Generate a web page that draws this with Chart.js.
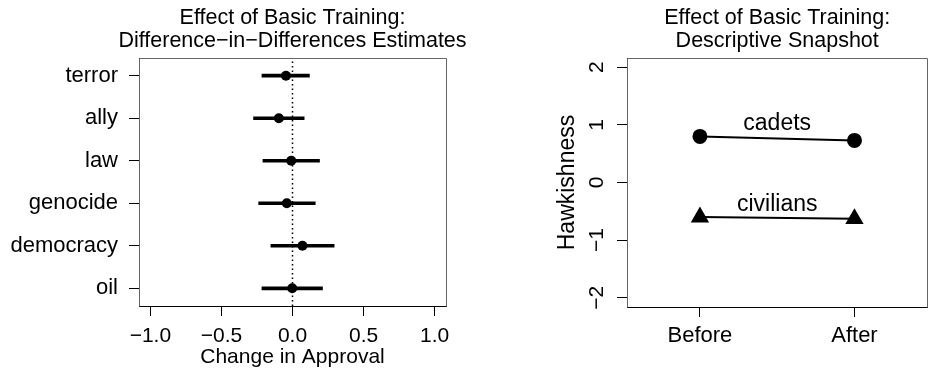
<!DOCTYPE html>
<html>
<head>
<meta charset="utf-8">
<script src="https://cdn.jsdelivr.net/npm/chart.js@4.4.1/dist/chart.umd.min.js"></script>
<style>
  body { margin: 0; background: #fff; width: 938px; height: 373px; overflow: hidden; position: relative; }
  #left { position: absolute; left: 0; top: 0; }
  #right { position: absolute; left: 470px; top: 0; }
</style>
</head>
<body>
<canvas id="left" width="470" height="373"></canvas>
<canvas id="right" width="468" height="373"></canvas>
<script>
// left panel: diff-in-diff estimates, listed bottom to top
const issues = ["oil", "democracy", "genocide", "law", "ally", "terror"];
const estimates = [-0.002, 0.07, -0.04, -0.009, -0.096, -0.046];
const ciLow = [-0.215, -0.152, -0.238, -0.208, -0.274, -0.215];
const ciHigh = [0.211, 0.293, 0.16, 0.19, 0.082, 0.119];
const approvalTicks = [-1, -0.5, 0, 0.5, 1];

// right panel: descriptive snapshot
const periods = ["Before", "After"];
const cadets = [0.80, 0.73];
const civilians = [-0.60, -0.63];
const hawkTicks = [-2, -1, 0, 1, 2];
const groupNames = ["cadets", "civilians"];
const groupLabelY = [1.02, -0.39];

const FONT = "'Liberation Sans', Arial, Helvetica, sans-serif";
const f = size => ({ family: FONT, size: size });

function fmt(v) {
  const s = Math.abs(v).toFixed(1);
  return v < 0 ? "\u2212" + s : s;
}

// title lines + grey box round the plot region
function panelPlugin(lines) {
  return {
    id: "panel",
    afterDraw(chart) {
      const { ctx, chartArea: a } = chart;
      ctx.save();
      ctx.strokeStyle = "#666";
      ctx.lineWidth = 1;
      ctx.beginPath();
      ctx.moveTo(Math.round(a.left) + 0.5, Math.round(a.bottom) + 0.5);
      ctx.lineTo(Math.round(a.left) + 0.5, Math.round(a.top) + 0.5);
      ctx.lineTo(Math.round(a.right) + 0.5, Math.round(a.top) + 0.5);
      ctx.lineTo(Math.round(a.right) + 0.5, Math.round(a.bottom) + 0.5);
      ctx.stroke();
      ctx.fillStyle = "#000";
      ctx.font = "21.5px " + FONT;
      ctx.textAlign = "center";
      ctx.textBaseline = "middle";
      const cx = (a.left + a.right) / 2;
      ctx.fillText(lines[0], cx, 18);
      ctx.fillText(lines[1], cx, 41);
      ctx.restore();
    }
  };
}

const yMinL = 0.584, yMaxL = 6.416;

new Chart(document.getElementById("left"), {
  data: {
    datasets: [
      {
        type: "scatter",
        data: issues.map((_, i) => ({ x: estimates[i], y: i + 1 })),
        backgroundColor: "#000",
        borderWidth: 0,
        pointRadius: 5
      },
      {
        type: "bar",
        indexAxis: "y",
        data: issues.map((_, i) => ({ y: i + 1, x: [ciLow[i], ciHigh[i]] })),
        backgroundColor: "#000",
        borderWidth: 0,
        barThickness: 3
      },
      {
        type: "line",
        data: [{ x: 0, y: yMinL }, { x: 0, y: yMaxL }],
        borderColor: "#000",
        borderWidth: 1.5,
        borderDash: [1.5, 3],
        pointRadius: 0
      }
    ]
  },
  options: {
    responsive: false,
    animation: false,
    devicePixelRatio: 1,
    layout: { padding: { top: 58, right: 24, left: 0, bottom: 0 } },
    plugins: { legend: { display: false }, tooltip: { enabled: false } },
    scales: {
      x: {
        type: "linear",
        min: -1.08,
        max: 1.08,
        offset: false,
        afterBuildTicks: s => { s.ticks = approvalTicks.map(v => ({ value: v })); },
        afterFit: s => { s.height = 67; },
        ticks: { callback: v => fmt(v), color: "#000", font: f(21), padding: 8, maxRotation: 0, autoSkip: false },
        grid: { drawOnChartArea: false, offset: false, tickLength: 10, color: "#000" },
        border: { display: true, color: "#000" },
        title: { display: true, text: "Change in Approval", color: "#000", font: f(21), padding: { top: 0, bottom: 3 } }
      },
      y: {
        type: "linear",
        min: yMinL,
        max: yMaxL,
        offset: false,
        afterBuildTicks: s => { s.ticks = issues.map((_, i) => ({ value: i + 1 })); },
        afterFit: s => { s.width = 139; },
        ticks: { callback: v => issues[v - 1], color: "#000", font: f(22), padding: 11, autoSkip: false },
        grid: { drawOnChartArea: false, offset: false, tickLength: 10, color: "#000" },
        border: { display: true, color: "#000" }
      }
    }
  },
  plugins: [panelPlugin(["Effect of Basic Training:", "Difference\u2212in\u2212Differences Estimates"])]
});

// group labels above each line
const groupLabelPlugin = {
  id: "groupLabels",
  afterDatasetsDraw(chart) {
    const { ctx, scales } = chart;
    ctx.save();
    ctx.fillStyle = "#000";
    ctx.font = "23px " + FONT;
    ctx.textAlign = "center";
    ctx.textBaseline = "middle";
    groupNames.forEach((name, i) => {
      ctx.fillText(name, scales.x.getPixelForValue(1.5), scales.y.getPixelForValue(groupLabelY[i]));
    });
    ctx.restore();
  }
};

new Chart(document.getElementById("right"), {
  type: "line",
  data: {
    datasets: [
      {
        data: periods.map((_, i) => ({ x: i + 1, y: cadets[i] })),
        borderColor: "#000",
        backgroundColor: "#000",
        borderWidth: 2,
        pointStyle: "circle",
        pointRadius: 7.5,
        pointBorderWidth: 0
      },
      {
        data: periods.map((_, i) => ({ x: i + 1, y: civilians[i] })),
        borderColor: "#000",
        backgroundColor: "#000",
        borderWidth: 2,
        pointStyle: "triangle",
        pointRadius: 10.6,
        pointBorderWidth: 0
      }
    ]
  },
  options: {
    responsive: false,
    animation: false,
    devicePixelRatio: 1,
    layout: { padding: { top: 58, right: 3, left: 0, bottom: 0 } },
    plugins: { legend: { display: false }, tooltip: { enabled: false } },
    scales: {
      x: {
        type: "linear",
        min: 0.528,
        max: 2.472,
        afterBuildTicks: s => { s.ticks = periods.map((_, i) => ({ value: i + 1 })); },
        afterFit: s => { s.height = 66; },
        ticks: { callback: v => periods[v - 1], color: "#000", font: f(22), padding: 6, maxRotation: 0, autoSkip: false },
        grid: { drawOnChartArea: false, tickLength: 10, color: "#000" },
        border: { display: true, color: "#000" }
      },
      y: {
        type: "linear",
        min: -2.16,
        max: 2.16,
        afterBuildTicks: s => { s.ticks = hawkTicks.map(v => ({ value: v })); },
        afterFit: s => { s.width = 157; },
        ticks: {
          callback: v => (v < 0 ? "\u2212" + Math.abs(v) : String(v)),
          color: "#000", font: f(21), padding: 8, minRotation: 90, maxRotation: 90,
          crossAlign: "center", autoSkip: false
        },
        grid: { drawOnChartArea: false, tickLength: 10, color: "#000" },
        border: { display: true, color: "#000" },
        title: { display: true, text: "Hawkishness", color: "#000", font: f(23), padding: { top: 84, bottom: 0 } }
      }
    }
  },
  plugins: [panelPlugin(["Effect of Basic Training:", "Descriptive Snapshot"]), groupLabelPlugin]
});
</script>
</body>
</html>
